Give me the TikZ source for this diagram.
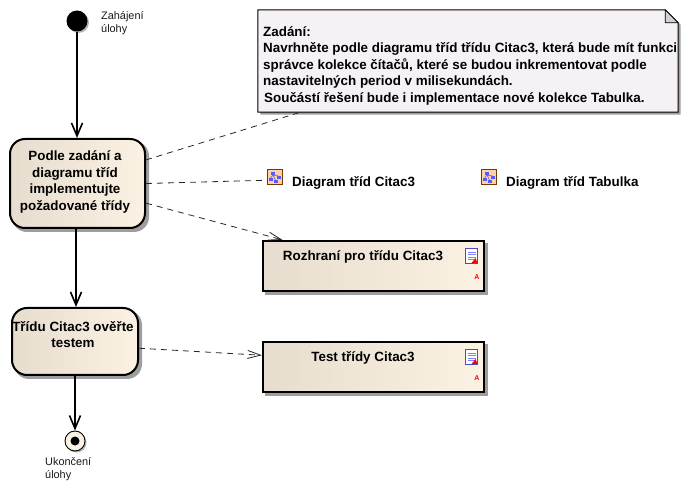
\documentclass[tikz,border=0pt]{standalone}
\usepackage{fontspec}
\setmainfont{Liberation Sans}
\usetikzlibrary{arrows.meta,calc}
\definecolor{fillL}{HTML}{E6DDCF}
\definecolor{fillR}{HTML}{FCF2E4}
\definecolor{noteF}{HTML}{F6F1F5}
\pgfdeclarelayer{bg}
\pgfsetlayers{bg,main}
\tikzset{
  x=1pt,y=-1pt,
  action/.style={draw=black,line width=2pt,rounded corners=15pt,left color=fillL,middle color=fillR,right color=fillR,inner sep=0pt,anchor=center},
  artifact/.style={draw=black,line width=2.2pt,left color=fillL,middle color=fillR,right color=fillR,inner sep=0pt,minimum width=221pt,minimum height=50pt},
  boldtxt/.style={font=\fontsize{13.4pt}{16.4pt}\selectfont\bfseries,align=center,inner sep=0pt,text=black},
  smalltxt/.style={font=\fontsize{10.9pt}{13pt}\selectfont,align=left,inner sep=0pt,text=black!90},
  flow/.style={draw=black,line width=1.9pt,-{Straight Barb[length=13pt,width=11pt,line width=1.6pt]}},
  dep/.style={draw=black!85,line width=.8pt,dash pattern=on 6pt off 5pt},
  deparrow/.style={dep,-{Straight Barb[length=13pt,width=8pt,line width=.8pt]}},
  diagicon/.style={draw=black!55!orange,line width=1pt,fill=orange!35!white,minimum size=15pt,inner sep=0pt},
  docicon/.style={draw=blue!60!black!70,line width=.8pt,fill=white,minimum width=12pt,minimum height=15pt,inner sep=0pt},
  redmark/.style={font=\fontsize{7pt}{7pt}\selectfont\bfseries,text=red,inner sep=0pt},
}
\newcommand{\boxshadow}[2]{%
  \begin{pgfonlayer}{bg}
  \fill[black!38,rounded corners=#2] ($(#1.north west)+(3,3)$) rectangle ($(#1.south east)+(3,3)$);
  \end{pgfonlayer}}
\newcommand{\discshadow}[2]{%
  \begin{pgfonlayer}{bg}
  \fill[black!30] ($(#1)+(1.5,1.5)$) circle[radius=#2];
  \end{pgfonlayer}}
\newcommand{\treeglyph}[1]{%
  \fill[blue!65!white] ($(#1)+(-4,-5)$) rectangle ++(4,3.5);
  \fill[blue!65!white] ($(#1)+(-6,1)$) rectangle ++(3.5,3);
  \fill[blue!65!white] ($(#1)+(2,-1)$) rectangle ++(3.5,3);
  \fill[blue!65!white] ($(#1)+(-1,3)$) rectangle ++(3.5,3);
  \draw[blue!65!white,line width=.6pt] ($(#1)+(-2,-2)$) -- ($(#1)+(-4.5,1)$) ($(#1)+(-2,-2)$) -- ($(#1)+(3.5,-1)$) ($(#1)+(-2,-2)$) -- ($(#1)+(.5,3)$);
}
\newcommand{\docglyph}[1]{%
  \foreach \yy in {-4,-1.5,1,3.5}{\draw[blue!50!white,line width=.7pt] ($(#1)+(-4,\yy)$) -- ($(#1)+(4,\yy)$);}
  \fill[red] ($(#1)+(6,7)$) -- ($(#1)+(0,7)$) -- ($(#1)+(4,2)$) -- cycle;
}
\begin{document}
\begin{tikzpicture}
\path[use as bounding box] (0,0) rectangle (697,497);

% nodes
\node[circle,fill=black,minimum size=21pt,inner sep=0pt] (start) at (77,21) {};
\discshadow{start}{10.5pt}
\node[smalltxt,anchor=north west] (startlbl) at (101,11) {Zahájení\\úlohy};

\node[action,minimum width=135pt,minimum height=89pt] (act1) at (77.5,183.5) {};
\boxshadow{act1}{15pt}
\node[boldtxt] (act1txt) at (75,182) {Podle zadání a\\diagramu tříd\\implementujte\\požadované třídy};

\node[action,minimum width=126pt,minimum height=67pt] (act2) at (75,341.5) {};
\boxshadow{act2}{15pt}
\node[boldtxt] (act2txt) at (73,334.5) {Třídu Citac3 ověřte\\testem};

\node[circle,draw=black,line width=.9pt,fill=fillR,minimum size=20pt,inner sep=0pt] (endn) at (75,441) {};
\discshadow{endn}{10pt}
\node[circle,fill=black,minimum size=9pt,inner sep=0pt] (enddot) at (75,441) {};
\node[smalltxt,anchor=north west] (endlbl) at (45,457) {Ukončení\\úlohy};

% note
\node[minimum width=420pt,minimum height=102pt,inner sep=0pt] (note) at (468,61) {};
\fill[black!38] ($(note.north west)+(2.5,2.5)$) -- ($(note.north east)+(-10,2.5)$) -- ($(note.north east)+(2.5,15)$) -- ($(note.south east)+(2.5,2.5)$) -- ($(note.south west)+(2.5,2.5)$) -- cycle;
\draw[black,line width=1pt,fill=noteF] (note.north west) -- ($(note.north east)+(-13,0)$) -- ($(note.north east)+(0,13)$) -- (note.south east) -- (note.south west) -- cycle;
\draw[black,line width=.8pt,fill=black!18] ($(note.north east)+(-13,0)$) -- ($(note.north east)+(-13,13)$) -- ($(note.north east)+(0,13)$) -- cycle;
\node[boldtxt,align=left,anchor=north west] (notetxt) at (263,26.5) {Zadání:\\Navrhněte podle diagramu tříd třídu Citac3, která bude mít funkci\\správce kolekce čítačů, které se budou inkrementovat podle\\nastavitelných period v milisekundách.\\\hspace*{1pt}Součástí řešení bude i implementace nové kolekce Tabulka.};

% diagram links
\node[diagicon] (diag1) at (275,177) {};
\treeglyph{diag1}
\node[boldtxt,anchor=west] (diag1txt) at (292,182.5) {Diagram tříd Citac3};
\node[diagicon] (diag2) at (489,177) {};
\treeglyph{diag2}
\node[boldtxt,anchor=west] (diag2txt) at (506,182.5) {Diagram tříd Tabulka};

% artifacts
\node[artifact] (box1) at (373.5,266) {};
\boxshadow{box1}{0pt}
\node[boldtxt] (box1txt) at (363,256.5) {Rozhraní pro třídu Citac3};
\node[docicon] (doc1) at (471.5,256) {};
\docglyph{doc1}
\node[redmark] (mark1) at (477,277.5) {A};

\node[artifact] (box2) at (373.5,367) {};
\boxshadow{box2}{0pt}
\node[boldtxt] (box2txt) at (363,357.5) {Test třídy Citac3};
\node[docicon] (doc2) at (471.5,357) {};
\docglyph{doc2}
\node[redmark] (mark2) at (477,378.5) {A};

% connectors
\draw[flow] (start) -- (act1.north -| start);
\draw[flow] (act1.south -| act2.north) ++(1,0) -- ($(act2.north)+(1,0)$);
\draw[flow] (act2.south -| endn.north) -- (endn.north);

\draw[dep] (act1.19) -- (note.197.3);
\draw[dep] (act1.east) -- (diag1.202);
\draw[deparrow] (act1.-16) -- (box1.164.9);
\draw[deparrow] (act2.-6) -- (box2.174.9);
\end{tikzpicture}
\end{document}
